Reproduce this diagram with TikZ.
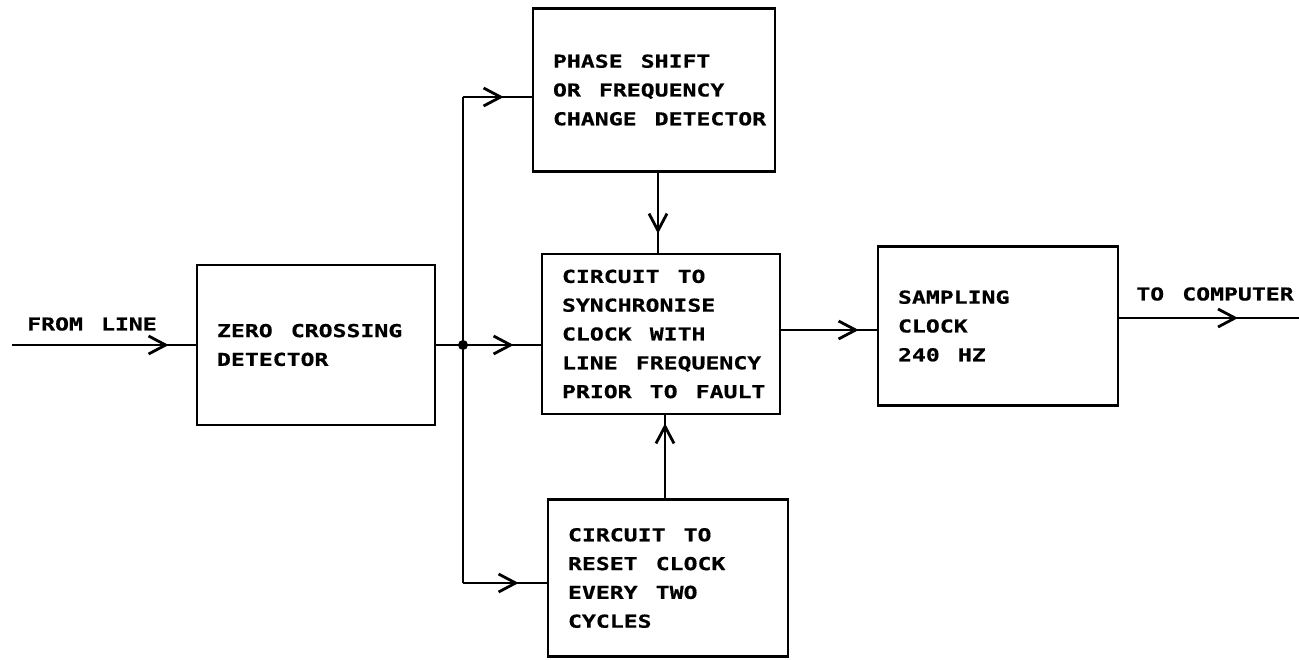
\documentclass[tikz,border=0pt]{standalone}
\usepackage{fontspec}
\newfontfamily\plotfont[FakeStretch=1.3,WordSpace={1.3,0,0},FakeBold=0.6]{DejaVu Sans Mono}
\usetikzlibrary{arrows.meta,decorations.markings}
\newcommand\pline[1]{\mbox{#1}}
\tikzset{
  box/.style={draw, line width=2.8pt, rectangle, inner sep=0pt, align=flush left,
    font=\plotfont\bfseries\fontsize{17.8}{28.8}\selectfont},
  lbl/.style={inner sep=0pt, font=\plotfont\bfseries\fontsize{17.8}{28.8}\selectfont},
  wire/.style={line width=2.8pt},
  midarr/.style={wire, postaction={decorate}, decoration={markings,
    mark=at position #1 with {\arrow{Straight Barb[length=17pt,width=18pt,line width=2.8pt]}}}}
}
\begin{document}
\begin{tikzpicture}[x=1pt,y=-1pt]
\useasboundingbox (0,0) rectangle (1299,659);
\node[box, minimum width=238pt, minimum height=160pt, text width=198pt] (zcd) at (316,345) {\pline{ZERO CROSSING}\\\pline{DETECTOR}};
\node[box, minimum width=242pt, minimum height=163pt, text width=202pt] (phase) at (654,90) {\pline{PHASE SHIFT}\\\pline{OR FREQUENCY}\\\pline{CHANGE DETECTOR}};
\node[box, minimum width=238pt, minimum height=160pt, text width=198pt] (sync) at (661,334) {\pline{CIRCUIT TO}\\\pline{SYNCHRONISE}\\\pline{CLOCK WITH}\\\pline{LINE FREQUENCY}\\\pline{PRIOR TO FAULT}};
\node[box, minimum width=240pt, minimum height=159pt, text width=200pt] (samp) at (998,326) {\pline{SAMPLING}\\\pline{CLOCK}\\\pline{240 HZ}};
\node[box, minimum width=240pt, minimum height=157pt, text width=200pt] (reset) at (668,578) {\pline{CIRCUIT TO}\\\pline{RESET CLOCK}\\\pline{EVERY TWO}\\\pline{CYCLES}};
\node[lbl] (from) at (92,324) {FROM LINE};
\node[lbl] (tocomp) at (1215,294) {TO COMPUTER};
\coordinate (in) at (12,345);
\coordinate (j) at (463,345);
\coordinate (btop) at (463,97);
\coordinate (bbot) at (463,583);
\coordinate (out) at (1299,318);
\coordinate (pd) at (658,0);
\coordinate (ru) at (665,0);
\draw[midarr=-27pt] (in) -- (zcd.west);
\draw[wire] (zcd.east) -- (j);
\draw[wire] (btop) -- (bbot);
\draw[midarr=-28pt] (btop) -- (btop -| phase.west);
\draw[midarr=-27pt] (j) -- (j -| sync.west);
\draw[midarr=-28pt] (bbot) -- (bbot -| reset.west);
\fill (j) circle (5pt);
\draw[midarr=-18pt] (sync.east |- 0,330) -- (samp.west |- 0,330);
\draw[midarr=-61pt] (samp.east |- out) -- (out);
\draw[midarr=-19pt] (pd |- phase.south) -- (pd |- sync.north);
\draw[midarr=-8pt] (ru |- reset.north) -- (ru |- sync.south);
\end{tikzpicture}
\end{document}
